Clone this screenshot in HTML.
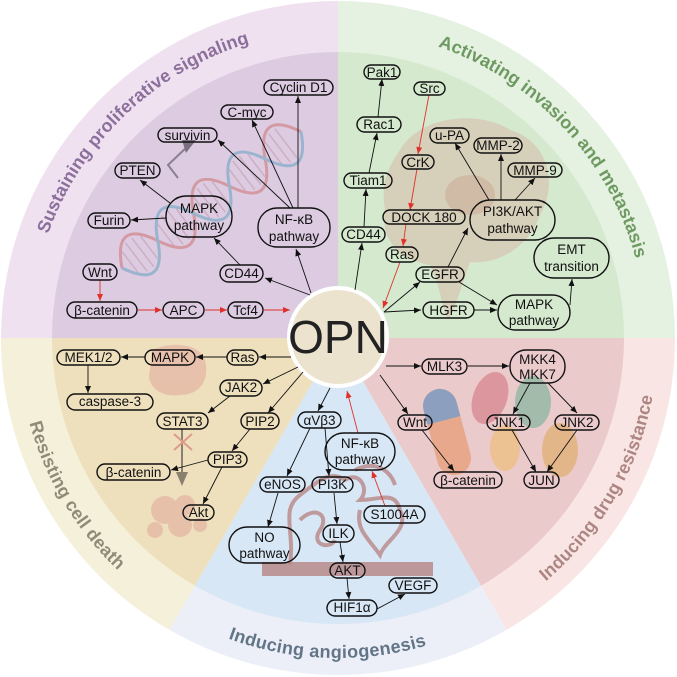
<!DOCTYPE html>
<html><head><meta charset="utf-8"><style>
html,body{margin:0;padding:0;background:#fff;}
svg{display:block;}
text{font-family:"Liberation Sans",sans-serif;}
.n rect{fill:none;stroke:#111;stroke-width:1.4;}
.n text{font-size:13.5px;fill:#111;text-anchor:middle;}
.a{stroke:#111;stroke-width:0.9;fill:none;marker-end:url(#mb);}
.r{stroke:#e0302a;stroke-width:0.9;fill:none;marker-end:url(#mr);}
.lab{font-weight:bold;font-size:18px;}
</style></head><body>
<svg width="677" height="677" viewBox="0 0 677 677" xmlns="http://www.w3.org/2000/svg">
<defs>
<marker id="mb" markerWidth="8" markerHeight="8" refX="7" refY="3" orient="auto" markerUnits="userSpaceOnUse"><path d="M0,0 L7,3 L0,6 Z" fill="#111"/></marker>
<marker id="mr" markerWidth="8" markerHeight="8" refX="7" refY="3" orient="auto" markerUnits="userSpaceOnUse"><path d="M0,0 L7,3 L0,6 Z" fill="#e0302a"/></marker>
<path id="p1" d="M43.5,247.9 A308,308 0 0 1 263.5,39.1"/>
<path id="p2" d="M422.9,41.9 A308,308 0 0 1 639.3,274"/>
<path id="p3" d="M517,603.3 A320,320 0 0 0 657.2,360.3"/>
<path id="p4" d="M202.8,628 A320,320 0 0 0 452.7,636.8"/>
<path id="p5" d="M21.1,382.5 A320,320 0 0 0 149.9,596.9"/>
</defs>
<path d="M338,338 L1,338 A337,337 0 0 1 338,1 Z" fill="#efe1ef"/>
<path d="M338,338 L338,1 A337,337 0 0 1 675,338 Z" fill="#e5f1e1"/>
<path d="M338,338 L675,338 A337,337 0 0 1 506.5,629.9 Z" fill="#f9e6e4"/>
<path d="M338,338 L506.5,629.9 A337,337 0 0 1 169.5,629.9 Z" fill="#eceff8"/>
<path d="M338,338 L169.5,629.9 A337,337 0 0 1 1,338 Z" fill="#f5f0da"/>
<path d="M338,338 L52,338 A286,286 0 0 1 338,52 Z" fill="#dccbe1"/>
<path d="M338,338 L338,52 A286,286 0 0 1 624,338 Z" fill="#d5e9cf"/>
<path d="M338,338 L624,338 A286,286 0 0 1 481,585.7 Z" fill="#ebcacc"/>
<path d="M338,338 L481,585.7 A286,286 0 0 1 195,585.7 Z" fill="#d8e7f5"/>
<path d="M338,338 L195,585.7 A286,286 0 0 1 52,338 Z" fill="#eee0bd"/>

<text class="lab" fill="#8c6f9c"><textPath href="#p1" startOffset="50%" text-anchor="middle" textLength="288" lengthAdjust="spacing">Sustaining proliferative signaling</textPath></text>
<text class="lab" fill="#6e9a62"><textPath href="#p2" startOffset="50%" text-anchor="middle" textLength="302" lengthAdjust="spacing">Activating invasion and metastasis</textPath></text>
<text class="lab" fill="#ad8684"><textPath href="#p3" startOffset="50%" text-anchor="middle" textLength="218" lengthAdjust="spacing">Inducing drug resistance</textPath></text>
<text class="lab" fill="#627587"><textPath href="#p4" startOffset="50%" text-anchor="middle" textLength="202" lengthAdjust="spacing">Inducing angiogenesis</textPath></text>
<text class="lab" fill="#8e8b77"><textPath href="#p5" startOffset="50%" text-anchor="middle" textLength="174" lengthAdjust="spacing">Resisting cell death</textPath></text>

<g transform="translate(122,268) rotate(-37.3)" fill="none" stroke-width="3" opacity="0.75">
<g stroke="#c9a6b8" stroke-width="1.5">
<line x1="10" y1="-14" x2="10" y2="14"/><line x1="18" y1="-18" x2="18" y2="18"/><line x1="26" y1="-18" x2="26" y2="18"/><line x1="34" y1="-14" x2="34" y2="14"/>
<line x1="55" y1="-14" x2="55" y2="14"/><line x1="63" y1="-18" x2="63" y2="18"/><line x1="71" y1="-18" x2="71" y2="18"/><line x1="79" y1="-14" x2="79" y2="14"/>
<line x1="100" y1="-14" x2="100" y2="14"/><line x1="108" y1="-18" x2="108" y2="18"/><line x1="116" y1="-18" x2="116" y2="18"/><line x1="124" y1="-14" x2="124" y2="14"/>
<line x1="145" y1="-14" x2="145" y2="14"/><line x1="153" y1="-18" x2="153" y2="18"/><line x1="161" y1="-18" x2="161" y2="18"/><line x1="169" y1="-14" x2="169" y2="14"/>
<line x1="190" y1="-14" x2="190" y2="14"/><line x1="198" y1="-18" x2="198" y2="18"/><line x1="206" y1="-18" x2="206" y2="18"/>
</g>
<path stroke="#d08a8e" d="M0,0 C15,-30 30,-30 45,0 S75,30 90,0 S120,-30 135,0 S165,30 180,0 S210,-30 225,0"/>
<path stroke="#85acc8" d="M0,0 C15,30 30,30 45,0 S75,-30 90,0 S120,30 135,0 S165,-30 180,0 S210,30 225,0"/>
</g>
<path d="M178,178 L168,165 L188,146" fill="none" stroke="#8a8090" stroke-width="2"/>
<path d="M182,140 L196,140 L186,153 Z" fill="#7a7080"/>

<path d="M400,150 C420,115 480,110 510,130 C545,140 560,180 540,215 C530,245 500,265 470,262 C460,290 455,310 448,320 C440,300 440,285 430,265 C400,260 380,240 385,210 C380,180 390,165 400,150 Z" fill="#d7a898" opacity="0.4"/>
<ellipse cx="470" cy="195" rx="25" ry="20" fill="#c59585" opacity="0.35"/>

<rect x="430" y="388" width="34" height="88" rx="17" transform="rotate(-15 447 432)" fill="#e8a280" opacity="0.85"/>
<path d="M430,405 A17,17 0 0 1 464,405 L464,420 L430,420 Z" transform="rotate(-15 447 432)" fill="#8d9fbf"/>
<ellipse cx="490" cy="398" rx="17" ry="27" transform="rotate(20 490 398)" fill="#d98d95" opacity="0.85"/>
<ellipse cx="533" cy="402" rx="18" ry="26" fill="#97b9a3" opacity="0.85"/>
<ellipse cx="505" cy="448" rx="15" ry="23" fill="#eebf84" opacity="0.8"/>
<ellipse cx="560" cy="450" rx="18" ry="27" fill="#e1b078" opacity="0.8"/>

<g fill="none" stroke="#b88888" stroke-width="4" opacity="0.8">
<path d="M290,565 C295,530 280,510 300,495 C320,480 330,470 345,480 C360,470 370,490 360,500 C380,500 395,490 400,510 C410,530 385,540 380,555 C370,540 355,530 360,510"/>
<path d="M300,520 C315,505 330,515 320,530 C310,545 330,550 335,540"/>
<path d="M355,470 C375,460 390,470 395,485"/>
</g>
<rect x="262" y="562" width="171" height="14" fill="#b98a8a" opacity="0.85"/>

<g fill="#e2a79c" opacity="0.55">
<path d="M152,350 C175,340 200,345 205,360 C210,380 200,395 180,395 C160,398 145,385 150,370 Z"/>
<circle cx="165" cy="510" r="14"/><circle cx="185" cy="505" r="10"/><circle cx="180" cy="525" r="12"/><circle cx="155" cy="530" r="8"/><circle cx="200" cy="525" r="7"/>
</g>
<line x1="182" y1="429" x2="182" y2="478" stroke="#8a8070" stroke-width="2"/>
<path d="M176,472 L188,472 L182,486 Z" fill="#8a8070"/>
<path d="M174,434 L192,450 M192,434 L174,450" stroke="#e09a8a" stroke-width="2"/>

<circle cx="338" cy="337" r="49" fill="#ece3cf" stroke="#fff" stroke-width="4"/>
<text x="338" y="353" font-size="46" text-anchor="middle" fill="#222">OPN</text>

<path class="r" d="M100,280 L100,301"/>
<path class="r" d="M138,310 L162,310"/>
<path class="r" d="M205,310 L227,310"/>
<path class="r" d="M264,310 L290,310"/>
<path class="a" d="M310,295 L265,278"/>
<path class="a" d="M311,293 L296,249"/>
<path class="a" d="M240,265 L214,238"/>
<path class="a" d="M166,218 L131,220"/>
<path class="a" d="M170,203 L140,180"/>
<path class="a" d="M290,208 L218,140"/>
<path class="a" d="M293,208 L252,120"/>
<path class="a" d="M298,208 L298,96"/>

<path class="a" d="M355,290 L362,243"/>
<path class="a" d="M364,227 L366,189"/>
<path class="a" d="M369,173 L377,133"/>
<path class="a" d="M378,117 L382,79"/>
<path class="r" d="M429,95 L418,154"/>
<path class="r" d="M417,169 L410,210"/>
<path class="r" d="M406,224 L403,246"/>
<path class="r" d="M400,262 L383,308"/>
<path class="a" d="M384,312 L420,282"/>
<path class="a" d="M384,312 L421,310"/>
<path class="a" d="M448,267 L468,228"/>
<path class="a" d="M489,200 L455,143"/>
<path class="a" d="M501,200 L501,154"/>
<path class="a" d="M515,200 L535,178"/>
<path class="a" d="M459,282 L497,305"/>
<path class="a" d="M474,310 L497,310"/>
<path class="a" d="M570,305 L572,279"/>

<path class="a" d="M291,357 L259,357"/>
<path class="a" d="M227,357 L196,357"/>
<path class="a" d="M145,357 L121,357"/>
<path class="a" d="M88,365 L88,393"/>
<path class="a" d="M298,367 L263,384"/>
<path class="a" d="M230,396 L208,413"/>
<path class="a" d="M303,372 L268,413"/>
<path class="a" d="M250,429 L232,451"/>
<path class="a" d="M208,460 L171,470"/>
<path class="a" d="M222,467 L203,504"/>

<path class="a" d="M330,388 L318,411"/>
<path class="a" d="M310,428 L287,476"/>
<path class="a" d="M278,493 L268,527"/>
<path class="a" d="M325,428 L329,476"/>
<path class="a" d="M334,493 L337,524"/>
<path class="a" d="M340,542 L343,562"/>
<path class="a" d="M347,578 L349,599"/>
<path class="a" d="M377,609 L405,594"/>
<path class="r" d="M385,506 L372,471"/>
<path class="r" d="M358,433 L347,391"/>

<path class="a" d="M386,366 L421,366"/>
<path class="a" d="M468,366 L509,366"/>
<path class="a" d="M380,375 L408,414"/>
<path class="a" d="M422,430 L454,471"/>
<path class="a" d="M530,383 L513,414"/>
<path class="a" d="M548,383 L577,413"/>
<path class="a" d="M512,430 L536,472"/>
<path class="a" d="M577,430 L547,472"/>

<g class="n">
<rect x="264" y="80" width="69" height="15" rx="7.5"/><text x="298.5" y="92">Cyclin D1</text>
<rect x="221" y="105" width="52" height="14" rx="7"/><text x="247" y="117">C-myc</text>
<rect x="158" y="128" width="59" height="14" rx="7"/><text x="187.5" y="140">survivin</text>
<rect x="115" y="163" width="45" height="15" rx="7.5"/><text x="137.5" y="175">PTEN</text>
<rect x="88" y="213" width="42" height="15" rx="7.5"/><text x="109" y="225">Furin</text>
<rect x="166" y="196" width="66" height="41" rx="20"/><text x="199" y="213">MAPK</text><text x="199" y="230">pathway</text>
<rect x="258" y="208" width="72" height="39" rx="19"/><text x="294" y="224">NF-κB</text><text x="294" y="241">pathway</text>
<rect x="220" y="265" width="43" height="17" rx="8.5"/><text x="241.5" y="278">CD44</text>
<rect x="83" y="264" width="34" height="16" rx="8"/><text x="100" y="277">Wnt</text>
<rect x="67" y="302" width="70" height="16" rx="8"/><text x="102" y="315">β-catenin</text>
<rect x="163" y="302" width="41" height="16" rx="8"/><text x="183.5" y="315">APC</text>
<rect x="228" y="302" width="35" height="16" rx="8"/><text x="245.5" y="315">Tcf4</text>

<rect x="364" y="65" width="36" height="14" rx="7"/><text x="382" y="77">Pak1</text>
<rect x="414" y="82" width="31" height="13" rx="6.5"/><text x="429.5" y="93">Src</text>
<rect x="357" y="117" width="44" height="15" rx="7.5"/><text x="379" y="129">Rac1</text>
<rect x="430" y="128" width="39" height="15" rx="7.5"/><text x="449.5" y="140">u-PA</text>
<rect x="474" y="138" width="48" height="15" rx="7.5"/><text x="498" y="150">MMP-2</text>
<rect x="402" y="155" width="32" height="14" rx="7"/><text x="418" y="167">CrK</text>
<rect x="508" y="163" width="54" height="14" rx="7"/><text x="535" y="175">MMP-9</text>
<rect x="344" y="173" width="48" height="15" rx="7.5"/><text x="368" y="185">Tiam1</text>
<rect x="383" y="210" width="82" height="14" rx="7"/><text x="424" y="222">DOCK 180</text>
<rect x="470" y="200" width="85" height="40" rx="20"/><text x="512.5" y="216">PI3K/AKT</text><text x="512.5" y="233">pathway</text>
<rect x="342" y="227" width="43" height="15" rx="7.5"/><text x="363.5" y="239">CD44</text>
<rect x="386" y="247" width="32" height="15" rx="7.5"/><text x="402" y="259">Ras</text>
<rect x="534" y="238" width="75" height="40" rx="20"/><text x="571.5" y="254">EMT</text><text x="571.5" y="271">transition</text>
<rect x="416" y="267" width="48" height="15" rx="7.5"/><text x="440" y="279">EGFR</text>
<rect x="423" y="302" width="51" height="16" rx="8"/><text x="448.5" y="315">HGFR</text>
<rect x="498" y="295" width="72" height="35" rx="17.5"/><text x="534" y="309">MAPK</text><text x="534" y="325">pathway</text>

<rect x="57" y="350" width="63" height="15" rx="7.5"/><text x="88.5" y="362">MEK1/2</text>
<rect x="145" y="350" width="50" height="15" rx="7.5"/><text x="170" y="362">MAPK</text>
<rect x="227" y="350" width="31" height="15" rx="7.5"/><text x="242.5" y="362">Ras</text>
<rect x="67" y="394" width="86" height="16" rx="8"/><text x="110" y="406">caspase-3</text>
<rect x="220" y="380" width="42" height="16" rx="8"/><text x="241" y="392">JAK2</text>
<rect x="157" y="413" width="51" height="16" rx="8"/><text x="182.5" y="426">STAT3</text>
<rect x="241" y="413" width="38" height="16" rx="8"/><text x="260" y="426">PIP2</text>
<rect x="298" y="412" width="43" height="16" rx="8"/><text x="319.5" y="425">αVβ3</text>
<rect x="208" y="452" width="39" height="15" rx="7.5"/><text x="227.5" y="464">PIP3</text>
<rect x="97" y="464" width="73" height="16" rx="8"/><text x="133.5" y="477">β-catenin</text>
<rect x="260" y="477" width="45" height="15" rx="7.5"/><text x="282.5" y="489">eNOS</text>
<rect x="312" y="477" width="41" height="15" rx="7.5"/><text x="332.5" y="489">PI3K</text>
<rect x="183" y="505" width="31" height="15" rx="7.5"/><text x="198.5" y="517">Akt</text>
<rect x="229" y="527" width="71" height="36" rx="18"/><text x="264.5" y="542">NO</text><text x="264.5" y="558">pathway</text>
<rect x="325" y="433" width="70" height="37" rx="18.5"/><text x="360" y="448">NF-κB</text><text x="360" y="464">pathway</text>
<rect x="364" y="506" width="61" height="17" rx="8.5"/><text x="394.5" y="519">S1004A</text>
<rect x="323" y="525" width="31" height="17" rx="8.5"/><text x="338.5" y="538">ILK</text>
<rect x="330" y="563" width="35" height="15" rx="7.5"/><text x="347.5" y="575">AKT</text>
<rect x="389" y="578" width="48" height="15" rx="7.5"/><text x="413" y="590">VEGF</text>
<rect x="327" y="600" width="50" height="16" rx="8"/><text x="352" y="612">HIF1α</text>

<rect x="422" y="359" width="45" height="15" rx="7.5"/><text x="444.5" y="371">MLK3</text>
<rect x="510" y="350" width="55" height="33" rx="16"/><text x="537.5" y="364">MKK4</text><text x="537.5" y="379">MKK7</text>
<rect x="398" y="415" width="34" height="15" rx="7.5"/><text x="415" y="427">Wnt</text>
<rect x="487" y="415" width="43" height="15" rx="7.5"/><text x="508.5" y="427">JNK1</text>
<rect x="555" y="415" width="44" height="15" rx="7.5"/><text x="577" y="427">JNK2</text>
<rect x="434" y="472" width="68" height="16" rx="8"/><text x="468" y="485">β-catenin</text>
<rect x="524" y="472" width="35" height="16" rx="8"/><text x="541.5" y="485">JUN</text>
</g>
</svg>
</body></html>
